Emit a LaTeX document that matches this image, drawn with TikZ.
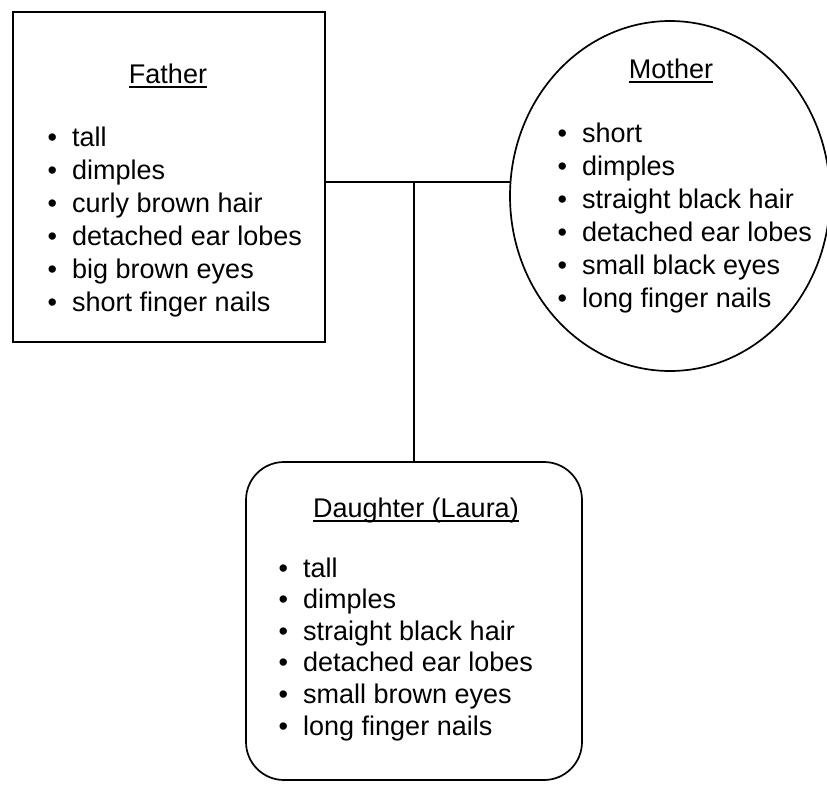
\documentclass[tikz,border=0pt]{standalone}
\usepackage{fontspec}
\setmainfont{Liberation Sans}
\usetikzlibrary{shapes.geometric}
\usetikzlibrary{calc,positioning}

\begin{document}
\begin{tikzpicture}[x=1pt, y=-1pt, every node/.style={font=\fontsize{27}{33}\selectfont}]
\newcommand{\bul}{\makebox[24.7pt][l]{\textbullet}}
\def\lw{1.7pt}
\tikzset{
  shapebox/.style={draw, line width=\lw, outer sep=0pt, inner sep=0pt},
  title/.style={anchor=base, inner sep=0pt},
  listitem/.style={anchor=base west, inner sep=0pt},
  link/.style={line width=1.4pt}
}

\useasboundingbox (0,0) rectangle (827,785);

\node[shapebox, rectangle, minimum width=312pt, minimum height=330pt] (father) at (169,177) {};
\node[shapebox, ellipse, minimum width=320pt, minimum height=350pt] (mother) at (670,196) {};
\node[shapebox, rectangle, rounded corners=38pt, minimum width=336pt, minimum height=318pt] (daughter) at (414,621) {};

\node[title] (fathertitle) at (168,83) {Father};
\node[title] (mothertitle) at (671,78) {Mother};
\node[title] (daughtertitle) at (416,517) {Daughter (Laura)};

\foreach \t in {fathertitle, mothertitle, daughtertitle}
{
  \draw[line width=1.2pt]
    ([yshift=-4pt]\t.base west) -- ([yshift=-4pt]\t.base east);
}

\foreach \txt [count=\i] in {tall, dimples, curly brown hair, detached ear lobes, big brown eyes, short finger nails}
{
  \node[listitem] (f\i) at (47.3, {113+33*\i}) {\bul\txt};
}
\foreach \txt [count=\i] in {short, dimples, straight black hair, detached ear lobes, small black eyes, long finger nails}
{
  \node[listitem] (m\i) at (557.3, {109+33*\i}) {\bul\txt};
}
\foreach \txt [count=\i] in {tall, dimples, straight black hair, detached ear lobes, small brown eyes, long finger nails}
{
  \node[listitem] (d\i) at (278.3, {545.4+31.6*\i}) {\bul\txt};
}

\coordinate (junction) at (414,182);
\draw[link] (junction -| father.east) -- (junction -| mother.west);
\draw[link] (junction) -- (daughter.north);

\end{tikzpicture}
\end{document}
